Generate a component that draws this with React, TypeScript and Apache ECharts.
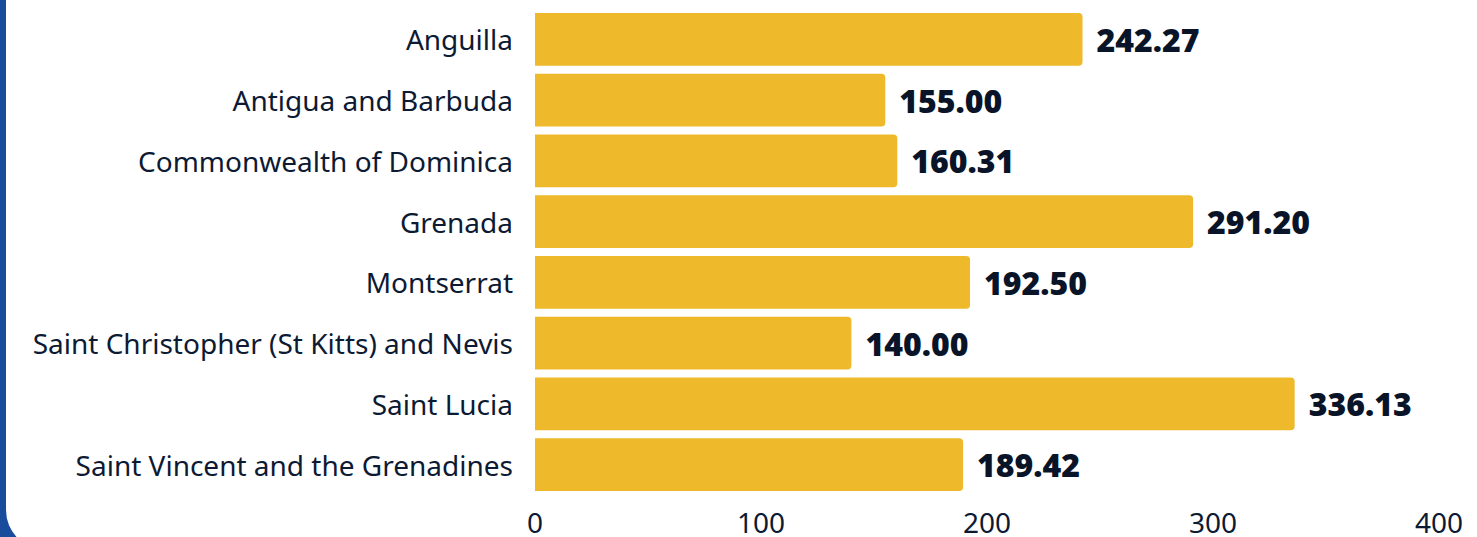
import React, { useEffect, useRef } from "react";
import * as echarts from "echarts";

const categories = [
  "Anguilla",
  "Antigua and Barbuda",
  "Commonwealth of Dominica",
  "Grenada",
  "Montserrat",
  "Saint Christopher (St Kitts) and Nevis",
  "Saint Lucia",
  "Saint Vincent and the Grenadines",
];
const values = [242.27, 155.0, 160.31, 291.2, 192.5, 140.0, 336.13, 189.42];
const xTicks = [0, 100, 200, 300, 400];

export default function App() {
  const ref = useRef<HTMLDivElement>(null);
  useEffect(() => {
    const chart = echarts.init(ref.current!, undefined, { renderer: "svg" });
    chart.setOption({
      animation: false,
      backgroundColor: "#ffffff",
      graphic: [
        { type: "rect", z: -10, silent: true, shape: { x: 0, y: 0, width: 1477, height: 537 }, style: { fill: "#1a4c9c" } },
        { type: "rect", z: -9, silent: true, shape: { x: 6, y: -60, width: 1520, height: 610, r: 40 }, style: { fill: "#ffffff" } },
      ],
      grid: { left: 535, right: 38, top: 9, bottom: 42, containLabel: false },
      xAxis: {
        type: "value",
        min: xTicks[0],
        max: xTicks[xTicks.length - 1],
        interval: 100,
        axisLine: { show: false },
        axisTick: { show: false },
        splitLine: { show: false },
        axisLabel: { color: "#0d1a33", fontFamily: "Noto Sans", fontSize: 28, lineHeight: 24, margin: 15 },
      },
      yAxis: {
        type: "category",
        inverse: true,
        data: categories,
        axisLine: { show: false },
        axisTick: { show: false },
        axisLabel: { color: "#0d1a33", fontFamily: "Noto Sans", fontSize: 28, margin: 22 },
      },
      series: [
        {
          type: "bar",
          data: values,
          barCategoryGap: "13%",
          itemStyle: { color: "#eeb92b", borderRadius: [0, 4, 4, 0] },
          label: {
            show: true,
            position: "right",
            distance: 14,
            formatter: (p: any) => p.value.toFixed(2),
            color: "#0a1428",
            fontFamily: "Open Sans",
            fontWeight: 800,
            fontSize: 32,
          },
        },
      ],
    });
    return () => chart.dispose();
  }, []);
  return (
    <div style={{ position: "absolute", left: 0, top: 0, width: 1477, height: 537 }}>
      <div ref={ref} style={{ width: 1477, height: 537 }} />
    </div>
  );
}
